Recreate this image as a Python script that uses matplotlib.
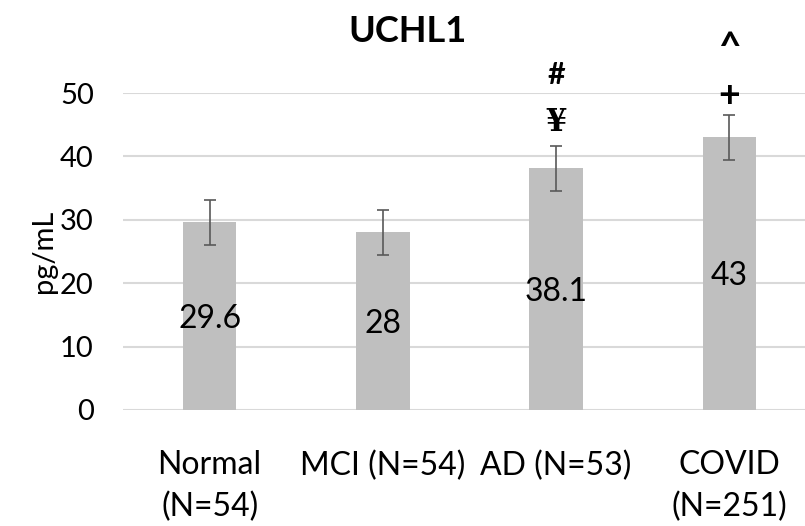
import numpy as np
from matplotlib import pyplot as plt

plt.rcParams['font.family'] = ['Lato', 'DejaVu Sans']

groups = ['Normal\n(N=54)', 'MCI (N=54)', 'AD (N=53)', 'COVID\n(N=251)']
means = [29.6, 28.0, 38.1, 43.0]
errors = [3.55, 3.6, 3.55, 3.55]
value_labels = ['29.6', '28', '38.1', '43']
# significance marks: (group index, y position, symbol)
marks = [(2, 45.4, '¥'), (2, 52.8, '#'), (3, 49.6, '+'), (3, 58.8, '^')]

fig = plt.figure(figsize=(8.05, 5.26), dpi=100)
ax = fig.add_axes([123/805, 116/526, 682/805, 317/526])

x = np.arange(len(groups))
ax.bar(x, means, width=0.31, color='#bfbfbf', zorder=2)
ax.errorbar(x, means, yerr=errors, fmt='none', ecolor='#595959',
            elinewidth=1.2, capsize=4, capthick=1.2, zorder=3)

for xi, m, lab in zip(x, means, value_labels):
    ax.text(xi, m / 2 - 0.4, lab, ha='center', va='center', fontsize=23, color='black', zorder=4)

sizes = {'^': 28, '+': 27, '#': 22, '¥': 22}
offsets = {'^': -1.6, '+': 0.0, '#': 0.0, '¥': 0.0}
for gi, y, sym in marks:
    ax.text(gi, y + offsets[sym], sym, ha='center', va='center', fontsize=sizes[sym],
            fontweight='bold', clip_on=False,
            family=['DejaVu Serif'] if sym == '¥' else None)

ax.set_ylim(0, 50)
ax.set_xlim(-0.5, 3.5 - 11/173)
ax.set_yticks([0, 10, 20, 30, 40, 50])
ax.yaxis.grid(True, color='#d9d9d9', linewidth=1.5, zorder=0)
ax.set_axisbelow(True)
for s in ax.spines.values():
    s.set_visible(False)
ax.tick_params(axis='both', length=0)
ax.tick_params(axis='y', pad=21, labelsize=21)
ax.tick_params(axis='x', pad=29, labelsize=23)
ax.set_xticks(x)
ax.set_xticklabels(groups, va='top', linespacing=1.45)
ax.set_ylabel('pg/mL', fontsize=21, labelpad=2)

fig.text(407/805, 1 - 32/526, 'UCHL1', ha='center', va='center', fontsize=26, fontweight='bold')

plt.savefig('out.png', dpi=100)
